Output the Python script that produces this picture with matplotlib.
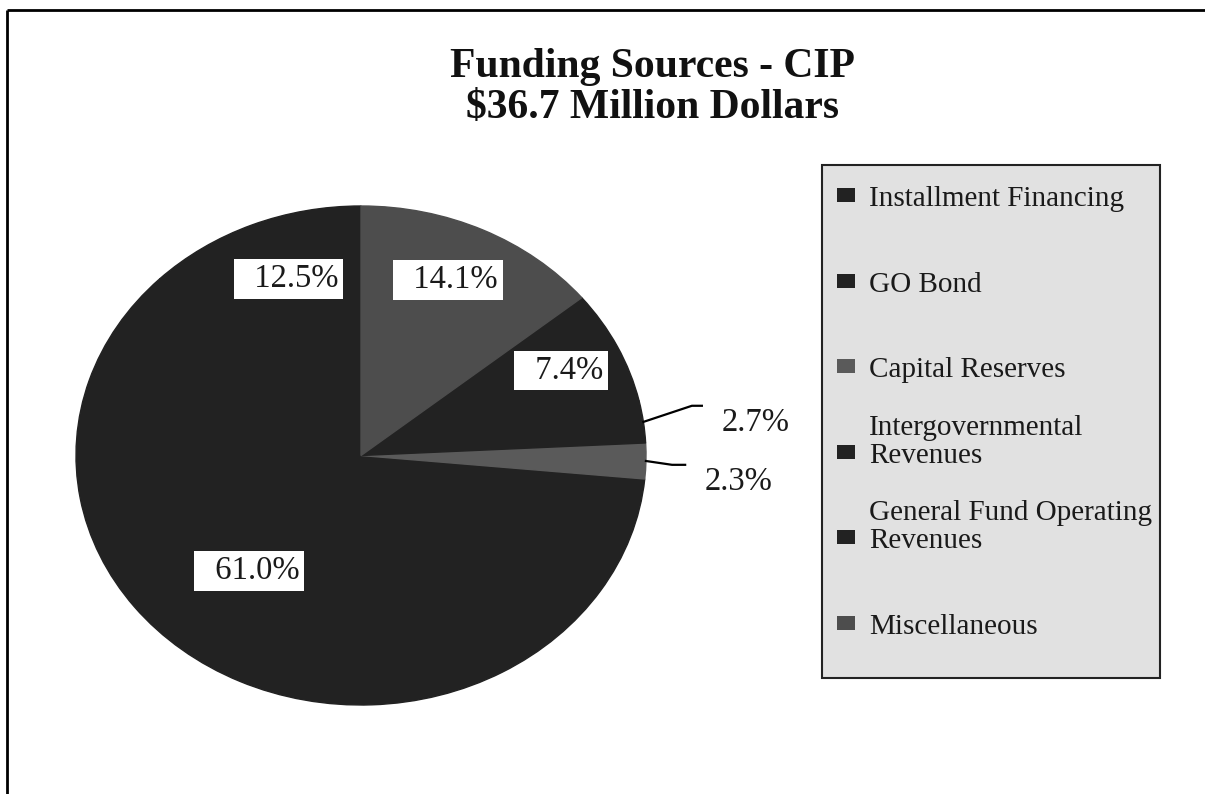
"""Funding Sources - CIP pie chart ($36.7 million), grayscale scan style."""

import math

import matplotlib
matplotlib.use("Agg")  # headless
import matplotlib.pyplot as plt  # noqa: E402
from matplotlib.patches import Rectangle  # noqa: E402

W, H = 1205, 794

TITLE_LINES = ["Funding Sources - CIP", r"\$36.7 Million Dollars"]
SOURCES = [
    "Installment Financing",
    "GO Bond",
    "Capital Reserves",
    "Intergovernmental\nRevenues",
    "General Fund Operating\nRevenues",
    "Miscellaneous",
]
SHARES = [12.5, 61.0, 2.3, 2.7, 7.4, 14.1]
COLORS = ["#222222", "#222222", "#5a5a5a", "#222222", "#222222", "#4d4d4d"]

# per-slice label placement:
#   ("box", radius, angle nudge in deg)          -> white boxed label inside slice
#   ("leader", elbow radius, elbow nudge, tail)  -> label outside with leader line
LABEL_PLACE = [
    ("box", 0.751, -2.7),
    ("box", 0.607, -15.1),
    ("leader", 1.092, -0.7, 0.046),
    ("leader", 1.178, 2.0, 0.035),
    ("box", 0.781, 0.0),
    ("box", 0.766, 2.0),
]

plt.rcParams["font.family"] = ["Liberation Serif", "DejaVu Serif"]
PCT_SIZE = 23.5


def main() -> None:
    fig = plt.figure(figsize=(W / 100, H / 100), dpi=100)
    fig.patch.set_facecolor("white")

    # full-figure canvas in pixel units (y down) for frame, title and legend
    canvas = fig.add_axes([0, 0, 1, 1], zorder=0)
    canvas.set_xlim(0, W)
    canvas.set_ylim(H, 0)
    canvas.axis("off")

    canvas.plot([7, 7], [10, H], color="black", lw=2, solid_capstyle="butt")
    canvas.plot([7, W], [10, 10], color="black", lw=2, solid_capstyle="butt")

    for text, base in zip(TITLE_LINES, (77, 118)):
        canvas.text(652, base, text, ha="center", va="baseline",
                    fontsize=30, fontweight="bold", color="#111111")

    # pie: slightly wider than tall, as in the scan
    cx, cy, rx, ry = 361, 455.5, 285, 249.5
    ax = fig.add_axes([(cx - rx) / W, (H - cy - ry) / H, 2 * rx / W, 2 * ry / H],
                      zorder=1)
    wedges, _ = ax.pie(SHARES, colors=COLORS, startangle=90, counterclock=True)
    for w in wedges:
        # hide the antialiasing seams between slices
        w.set_edgecolor(w.get_facecolor())
        w.set_linewidth(1.0)
    ax.set_aspect("auto")
    ax.set_xlim(-1, 1)
    ax.set_ylim(-1, 1)

    for w, v, place in zip(wedges, SHARES, LABEL_PLACE):
        mid = math.radians((w.theta1 + w.theta2) / 2)
        label = f"{v:.1f}%"
        if place[0] == "box":
            _, r, nudge = place
            a = mid + math.radians(nudge)
            ax.text(r * math.cos(a), r * math.sin(a), "  " + label,
                    ha="center", va="center", fontsize=PCT_SIZE, color="#1a1a1a",
                    bbox=dict(boxstyle="square,pad=0.14", fc="white", ec="none"))
        else:
            _, r1, nudge, tail = place
            a1 = mid + math.radians(nudge)
            p0 = (math.cos(mid), math.sin(mid))
            p1 = (r1 * math.cos(a1), r1 * math.sin(a1))
            p2 = (p1[0] + tail, p1[1])
            ax.plot([p0[0], p1[0], p2[0]], [p0[1], p1[1], p2[1]],
                    color="black", lw=1.6, clip_on=False)
            ax.text(p2[0] + 0.07, p2[1] - 0.10, label, ha="left", va="baseline",
                    fontsize=PCT_SIZE, color="#1a1a1a", clip_on=False)

    # legend box drawn by hand so two-line labels keep the marker on line one
    canvas.add_patch(Rectangle((822, 165), 338, 513, fc="#e1e1e1",
                               ec="#222222", lw=1.5))
    for i, (src, col) in enumerate(zip(SOURCES, COLORS)):
        y = 195 + 85.6 * i
        canvas.add_patch(Rectangle((837, y - 7), 18, 14, fc=col, ec="none"))
        canvas.text(869, y + 11, src, ha="left", va="baseline", fontsize=21,
                    color="#1a1a1a", linespacing=1.1)

    fig.savefig("out.png", dpi=100)
    plt.close(fig)


if __name__ == "__main__":
    main()
